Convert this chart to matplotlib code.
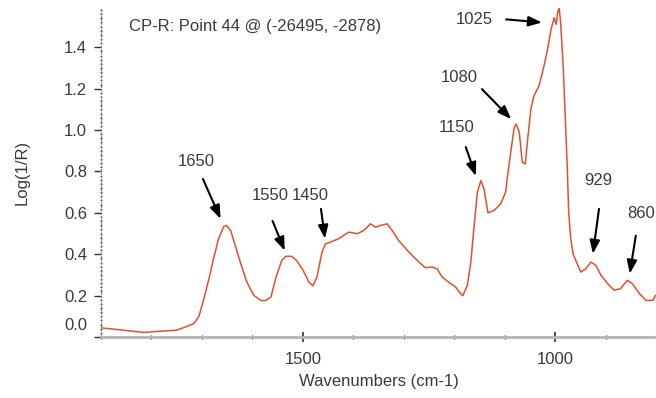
import matplotlib
matplotlib.use("Agg")
import matplotlib.pyplot as plt
from matplotlib.ticker import FuncFormatter, MultipleLocator

plt.rcParams["font.family"] = ["Liberation Sans", "DejaVu Sans"]

# spectrum (wavenumber, log(1/R))
WAVENUMBER = [
    1899, 1875, 1849, 1815, 1782, 1750, 1730, 1716, 1706, 1696, 1686, 1677, 1667,
    1657, 1651, 1643, 1634, 1624, 1611, 1597, 1583, 1573, 1563, 1554, 1542, 1534,
    1522, 1512, 1500, 1488, 1480, 1472, 1462, 1455, 1445, 1429, 1409, 1392, 1379,
    1366, 1356, 1346, 1333, 1323, 1310, 1290, 1270, 1257, 1244, 1234, 1224, 1210,
    1198, 1190, 1183, 1174, 1167, 1161, 1154, 1147, 1141, 1133, 1121, 1108, 1098,
    1095, 1088, 1081, 1077, 1071, 1065, 1059, 1055, 1048, 1042, 1032, 1022, 1015,
    1008, 1002, 998, 995, 992, 989, 984, 980, 976, 973, 969, 964, 959, 949, 939,
    929, 919, 909, 896, 883, 870, 857, 847, 833, 820, 806, 801,
]
LOG_1_R = [
    0.044, 0.038, 0.031, 0.022, 0.028, 0.033, 0.051, 0.065, 0.099, 0.186, 0.282, 0.378, 0.475,
    0.533, 0.539, 0.515, 0.442, 0.362, 0.266, 0.201, 0.176, 0.177, 0.194, 0.282, 0.369, 0.390,
    0.390, 0.369, 0.325, 0.266, 0.247, 0.290, 0.410, 0.450, 0.459, 0.475, 0.507, 0.499, 0.515,
    0.547, 0.531, 0.539, 0.547, 0.515, 0.466, 0.411, 0.362, 0.335, 0.338, 0.330, 0.290, 0.263,
    0.243, 0.218, 0.199, 0.250, 0.362, 0.523, 0.700, 0.756, 0.716, 0.600, 0.611, 0.643, 0.700,
    0.764, 0.892, 1.013, 1.029, 0.989, 0.844, 0.836, 0.941, 1.101, 1.165, 1.213, 1.310, 1.390,
    1.487, 1.543, 1.511, 1.567, 1.591, 1.519, 1.310, 1.069, 0.828, 0.600, 0.475, 0.400, 0.370, 0.314, 0.330,
    0.362, 0.346, 0.298, 0.258, 0.226, 0.234, 0.274, 0.258, 0.210, 0.177, 0.177, 0.201,
]

# peak labels: text position, arrow tail, arrow head (data units)
PEAK_LABELS = ["1650", "1550", "1450", "1150", "1080", "1025", "929", "860"]
LABEL_POS = [(1712, 0.846), (1565, 0.682), (1486, 0.682), (1196, 1.014),
             (1190, 1.255), (1161, 1.535), (915, 0.754), (829, 0.595)]
ARROW_TAIL = [(1698, 0.764), (1560, 0.561), (1464, 0.619), (1177, 0.918),
              (1145, 1.198), (1097, 1.535), (913, 0.619), (840, 0.490)]
ARROW_HEAD = [(1663, 0.571), (1536, 0.417), (1456, 0.475), (1157, 0.778),
              (1087, 1.053), (1026, 1.520), (925, 0.402), (852, 0.306)]

TITLE = "CP-R: Point 44 @ (-26495, -2878)"
LINE_COLOR = "#e4502e"
TEXT_COLOR = "#3a3a3a"
FS = 12

fig = plt.figure(figsize=(6.56, 3.98), dpi=100)
ax = fig.add_axes([101 / 656, 61 / 398, 555 / 656, 329 / 398])

ax.plot(WAVENUMBER, LOG_1_R, color=LINE_COLOR, linewidth=1.1)

for label, pos, tail, head in zip(PEAK_LABELS, LABEL_POS, ARROW_TAIL, ARROW_HEAD):
    ax.annotate("", xy=head, xytext=tail,
                arrowprops=dict(arrowstyle="-|>,head_length=0.8,head_width=0.3",
                                color="black", linewidth=1.5, shrinkA=0, shrinkB=0))
    ax.text(pos[0], pos[1], label, ha="center", va="center", fontsize=FS,
            color=TEXT_COLOR, clip_on=False)

ax.text(1845, 1.501, TITLE, ha="left", va="center", fontsize=FS, color=TEXT_COLOR)

ax.set_xlim(1900, 800)
ax.set_ylim(0.0, 1.59)

ax.xaxis.set_major_locator(MultipleLocator(500))
ax.xaxis.set_minor_locator(MultipleLocator(100))
ax.yaxis.set_major_locator(MultipleLocator(0.2))
ax.yaxis.set_minor_locator(MultipleLocator(0.02))
# 0.0 is written separately, raised above the bottom axis as in the original
ax.yaxis.set_major_formatter(FuncFormatter(lambda v, _: "" if abs(v) < 1e-9 else f"{v:.1f}"))
ax.annotate("0.0", xy=(0, 0), xycoords="axes fraction", xytext=(-10, 8.6),
            textcoords="offset points", ha="right", va="center",
            fontsize=FS, color=TEXT_COLOR)

for side in ["top", "right"]:
    ax.spines[side].set_visible(False)
ax.spines["bottom"].set_color("#b5b5b5")
ax.spines["bottom"].set_linewidth(2.0)
ax.spines["left"].set_color("#777777")
ax.spines["left"].set_linewidth(0.8)
ax.spines["left"].set_linestyle((0, (1, 2)))

ax.tick_params(axis="x", which="major", direction="inout", length=7, width=1.2,
               color="#333333", labelsize=FS, labelcolor=TEXT_COLOR, pad=7)
ax.tick_params(axis="x", which="minor", direction="inout", length=3, width=1.0, color="#333333")
ax.tick_params(axis="y", which="major", direction="out", length=5, width=1.0,
               color="#333333", labelsize=FS, labelcolor=TEXT_COLOR, pad=5)
ax.tick_params(axis="y", which="minor", direction="inout", length=2, width=1.0, color="#555555")

ax.set_xlabel("Wavenumbers (cm-1)", fontsize=FS, color=TEXT_COLOR, labelpad=5)
ax.set_ylabel("Log(1/R)", fontsize=FS, color=TEXT_COLOR, labelpad=25)

fig.savefig("out.png", dpi=100)
